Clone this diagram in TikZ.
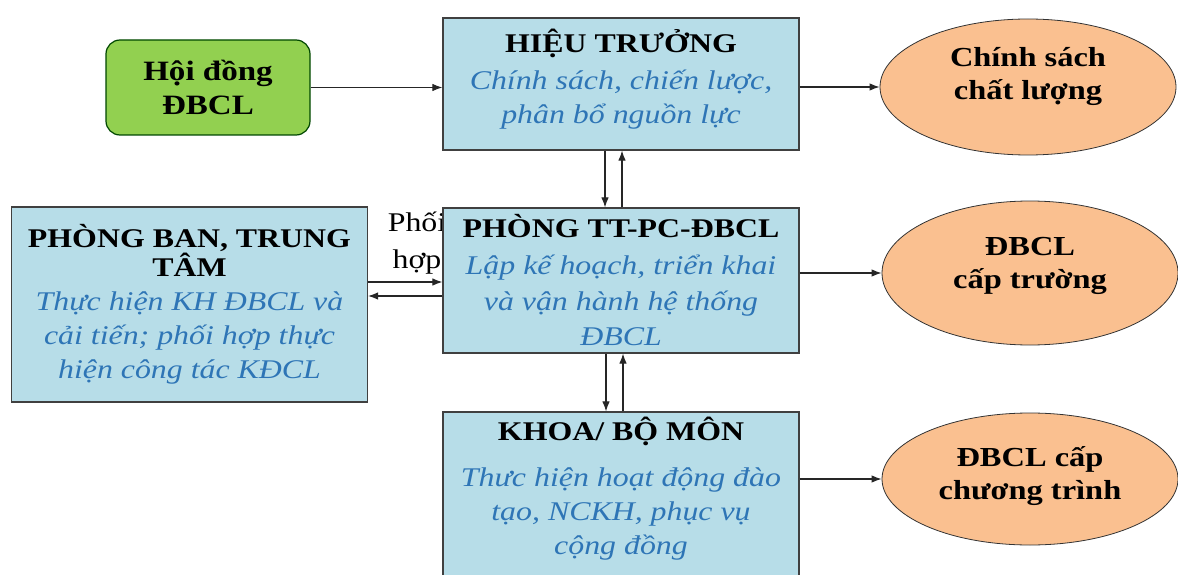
\documentclass[tikz,border=0pt]{standalone}
\usepackage{fontspec}
\setmainfont{Liberation Serif}[FakeStretch=1.18]
\usetikzlibrary{shapes.geometric,arrows.meta}

\definecolor{boxblue}{HTML}{B7DDE8}
\definecolor{councilgreen}{HTML}{92D050}
\definecolor{ovalpeach}{HTML}{FAC090}
\definecolor{taskblue}{HTML}{2E75B6}

\newcommand{\unitname}[1]{\textbf{#1}}
\newcommand{\unittask}[1]{\textcolor{taskblue}{\itshape #1}}

\begin{document}
\begin{tikzpicture}[
            x=1pt, y=-1pt,
            >={Latex[length=10pt,width=7.5pt]},
            font=\fontsize{27}{34}\selectfont,
            unitbox/.style={rectangle, draw=black!75, line width=1.2pt, fill=boxblue, align=center, inner sep=0pt, minimum width=356pt},
            councilbox/.style={rectangle, rounded corners=14pt, draw=black!60!green!70!black, line width=1.2pt, fill=councilgreen, align=center, minimum width=204pt, minimum height=95pt, font=\fontsize{28}{34}\selectfont\bfseries},
            resultoval/.style={ellipse, draw=black!80, line width=0.8pt, fill=ovalpeach, align=center, inner sep=0pt, minimum width=296pt, font=\fontsize{27.5}{33}\selectfont\bfseries},
            flowarrow/.style={->, line width=1.1pt, black!85}
        ]
        \useasboundingbox (0,0) rectangle (1178,575);

        %% label under the left arrows (partly hidden by the box)

        \node[fill=white, inner sep=2pt, align=center, font=\fontsize{27}{37}\selectfont] (phoihop) at (417,243) {Phối\\hợp};

        %% Boxes

        \node[councilbox] (hoidong) at (208,87.5) {Hội đồng\\ĐBCL};

        \node[unitbox, minimum height=132pt, text depth=16pt] (hieutruong) at (621,84)
            {\unitname{HIỆU TRƯỞNG}\\[3pt] \unittask{Chính sách, chiến lược,}\\ \unittask{phân bổ nguồn lực}};

        \node[unitbox, minimum height=145pt] (phongtt) at (621,280.5)
            {\unitname{PHÒNG TT-PC-ĐBCL}\\[3pt] \unittask{Lập kế hoạch, triển khai}\\[2pt] \unittask{và vận hành hệ thống}\\[1pt] \unittask{ĐBCL}};

        \node[unitbox, minimum height=195pt] (phongban) at (189.5,304.5)
            {\unitname{PHÒNG BAN, TRUNG}\\[-5pt] \unitname{TÂM}\\ \unittask{Thực hiện KH ĐBCL và}\\ \unittask{cải tiến; phối hợp thực}\\ \unittask{hiện công tác KĐCL}};

        \node[unitbox, minimum height=178pt, text depth=30pt] (khoa) at (621,501)
            {\unitname{KHOA/ BỘ MÔN}\\[12pt] \unittask{Thưc hiện hoạt động đào}\\ \unittask{tạo, NCKH, phục vụ}\\ \unittask{cộng đồng}};

        %% Results

        \node[resultoval, minimum height=136pt, text depth=28pt] (chinhsach) at (1028,87) {Chính sách\\chất lượng};
        \node[resultoval, minimum height=144pt, text depth=20pt] (captruong) at (1030,273) {ĐBCL\\cấp trường};
        \node[resultoval, minimum height=132pt, text depth=12pt] (chuongtrinh) at (1030,479) {ĐBCL cấp\\chương trình};

        %% Arrows

        \draw[flowarrow] (hoidong) -- (hoidong -| hieutruong.west);
        \draw[flowarrow] (hieutruong.east |- chinhsach) -- (chinhsach.west);
        \draw[flowarrow] (phongtt.east |- captruong) -- (captruong.west);
        \draw[flowarrow] (khoa.east |- chuongtrinh) -- (chuongtrinh.west);

        \draw[flowarrow] ([xshift=-16pt]hieutruong.south) -- ([xshift=-16pt]phongtt.north);
        \draw[flowarrow] ([xshift=1pt]phongtt.north) -- ([xshift=1pt]hieutruong.south);
        \draw[flowarrow] ([xshift=-15pt]phongtt.south) -- ([xshift=-15pt]khoa.north);
        \draw[flowarrow] ([xshift=2pt]khoa.north) -- ([xshift=2pt]phongtt.south);

        \draw[flowarrow] ([yshift=-1.5pt]phongtt.west -| phongban.east) -- ([yshift=-1.5pt]phongtt.west);
        \draw[flowarrow] ([yshift=-15.5pt]phongtt.west) -- ([yshift=-15.5pt]phongtt.west -| phongban.east);

    \end{tikzpicture}
\end{document}
